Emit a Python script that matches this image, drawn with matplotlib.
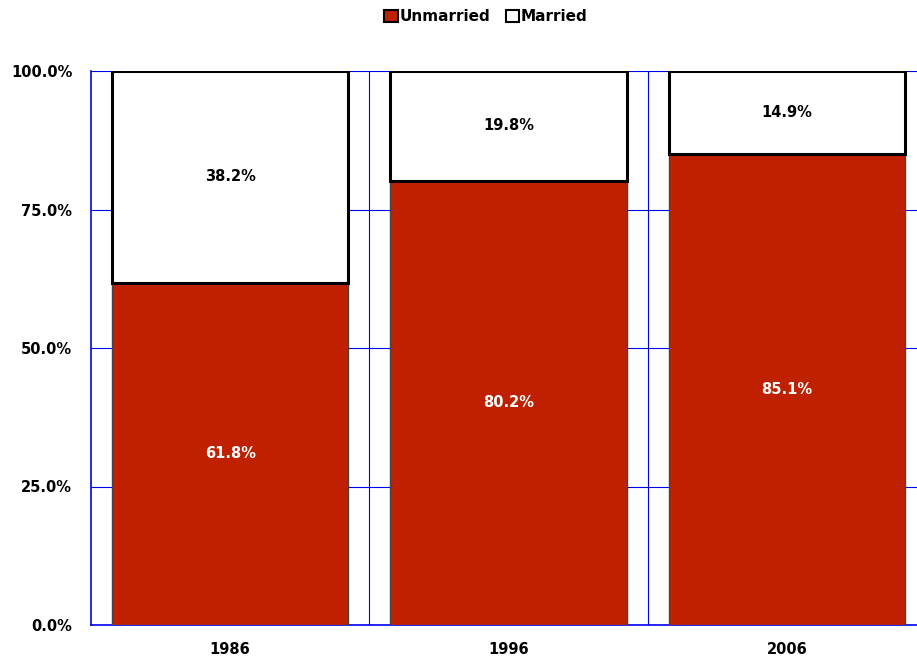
import matplotlib
matplotlib.use('Agg')
from matplotlib import pyplot as plt
from matplotlib import ticker
from matplotlib.patches import Patch
import numpy as np

## data
years = ['1986', '1996', '2006']
unmarried = [61.8, 80.2, 85.1]
married = [38.2, 19.8, 14.9]

red = '#BF2000'
blue = '#0000EE'

fig = plt.figure(figsize=(9.17, 6.6), dpi=100)
ax = fig.add_axes([91/917, 35/660, 835/917, 554/660])

x = np.arange(len(years))
w = 0.85

ax.bar(x, unmarried, w, color=red, edgecolor='#444444', linewidth=1, zorder=3)
ax.bar(x, married, w, bottom=unmarried, color='white', edgecolor='black',
       linewidth=2.2, zorder=3)

## value labels
for i in range(len(years)):
    ax.text(x[i], unmarried[i]/2, '{:.1f}%'.format(unmarried[i]),
            ha='center', va='center', color='white', fontsize=10.5,
            fontweight='bold', zorder=4)
    ax.text(x[i], unmarried[i] + married[i]/2, '{:.1f}%'.format(married[i]),
            ha='center', va='center', color='black', fontsize=10.5,
            fontweight='bold', zorder=4)

ax.set_xlim(-0.5, len(years) - 0.5)
ax.set_ylim(0, 100)

ax.set_xticks(x)
ax.set_xticklabels(years, fontsize=10.5, fontweight='bold')
ax.set_xticks(np.arange(len(years)) + 0.5, minor=True)
ax.yaxis.set_major_locator(ticker.MultipleLocator(25))
ax.yaxis.set_major_formatter(ticker.FuncFormatter(lambda v, pos: '{:.1f}%'.format(v)))
plt.setp(ax.get_yticklabels(), fontsize=10.5, fontweight='bold')

ax.tick_params(axis='x', which='both', length=0, pad=12)
ax.tick_params(axis='y', which='both', length=0, pad=13.5)
ax.grid(axis='y', which='major', color=blue, linewidth=0.8, zorder=1)
ax.grid(axis='x', which='minor', color=blue, linewidth=0.8, zorder=1)
ax.set_axisbelow(True)

for side in ['top', 'right']:
    ax.spines[side].set_visible(False)
for side in ['left', 'bottom']:
    ax.spines[side].set_color(blue)
    ax.spines[side].set_linewidth(1.2)

handles = [Patch(facecolor=red, edgecolor='black', linewidth=1.5, label='Unmarried'),
           Patch(facecolor='white', edgecolor='black', linewidth=1.5, label='Married')]
fig.legend(handles=handles, loc='upper center', bbox_to_anchor=(0.53, 1.0),
           ncol=2, frameon=False, prop={'weight': 'bold', 'size': 11},
           handlelength=0.9, handleheight=0.9, handletextpad=0.1,
           columnspacing=1.0, borderaxespad=0.2)

fig.savefig('out.png', dpi=100)
